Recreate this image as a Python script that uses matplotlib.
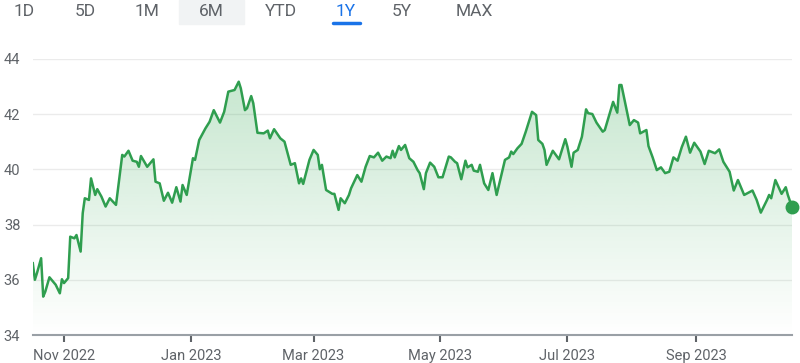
import numpy as np
import pandas as pd
import matplotlib
matplotlib.use('Agg')
import matplotlib.pyplot as plt
import matplotlib.dates as mdates

plt.rcParams['font.family'] = ['Roboto', 'DejaVu Sans']

# day offsets from the first point and closing prices
start = '2022-10-17'
days = [0, 1, 2, 4, 5, 6, 8, 11, 13, 14,
        15, 17, 18, 20, 21, 23, 24, 25, 27, 28,
        30, 31, 33, 35, 37, 40, 43, 44, 46, 48,
        50, 51, 52, 55, 58, 59, 61, 63, 65, 67,
        69, 71, 72, 74, 77, 78, 80, 83, 85, 87,
        90, 92, 94, 97, 99, 100, 102, 103, 105, 106,
        108, 111, 113, 114, 116, 119, 121, 124, 126, 128,
        129, 130, 133, 135, 137, 138, 139, 141, 144, 145,
        147, 148, 150, 152, 153, 156, 158, 160, 162, 164,
        166, 168, 170, 172, 173, 174, 176, 177, 179, 181,
        183, 185, 186, 188, 189, 191, 193, 195, 197, 200,
        201, 203, 204, 206, 208, 209, 211, 212, 214, 215,
        217, 219, 221, 223, 227, 229, 230, 231, 233, 235,
        237, 240, 242, 243, 245, 246, 247, 250, 253, 256,
        257, 259, 260, 262, 264, 266, 267, 269, 271, 274,
        275, 277, 279, 281, 282, 283, 287, 289, 291, 292,
        295, 296, 298, 300, 302, 304, 306, 308, 310, 312,
        314, 316, 318, 321, 323, 325, 328, 330, 332, 335,
        337, 339, 342, 344, 346, 348, 350, 353, 354, 355,
        357, 360, 362, 363, 365]
price = [36.60, 36.00, 36.24, 36.78, 35.39, 35.57, 36.09, 35.82, 35.51, 36.02,
         35.88, 36.06, 37.56, 37.50, 37.62, 37.02, 38.41, 38.95, 38.89, 39.67,
         39.07, 39.28, 39.01, 38.65, 38.95, 38.71, 40.52, 40.46, 40.67, 40.31,
         40.27, 40.09, 40.48, 40.09, 40.36, 39.55, 39.49, 38.86, 39.15, 38.79,
         39.35, 38.83, 39.43, 39.07, 40.40, 40.34, 41.06, 41.48, 41.72, 42.14,
         41.69, 42.08, 42.81, 42.87, 43.17, 42.93, 42.14, 42.21, 42.65, 42.39,
         41.32, 41.30, 41.40, 41.12, 41.45, 41.12, 41.00, 40.16, 40.22, 39.49,
         39.67, 39.47, 40.34, 40.70, 40.52, 40.00, 40.16, 39.25, 39.11, 39.11,
         38.53, 38.95, 38.77, 39.07, 39.31, 39.79, 39.55, 40.09, 40.48, 40.43,
         40.60, 40.31, 40.46, 40.40, 40.67, 40.43, 40.84, 40.70, 40.88, 40.40,
         40.27, 39.97, 39.86, 39.28, 39.86, 40.24, 40.09, 39.71, 39.71, 40.46,
         40.43, 40.27, 40.22, 39.64, 40.31, 40.07, 40.16, 39.95, 39.91, 40.16,
         39.49, 39.25, 39.86, 39.07, 40.34, 40.43, 40.64, 40.55, 40.76, 40.92,
         41.36, 42.08, 41.96, 41.06, 40.92, 40.70, 40.16, 40.67, 40.36, 41.09,
         40.82, 40.09, 40.60, 40.70, 41.18, 42.17, 42.03, 42.00, 41.69, 41.36,
         41.42, 41.93, 42.44, 42.05, 43.05, 43.05, 41.60, 41.78, 41.69, 41.30,
         41.42, 40.84, 40.43, 39.97, 40.07, 39.86, 39.91, 40.43, 40.31, 40.80,
         41.18, 40.60, 40.96, 40.64, 40.19, 40.67, 40.58, 40.72, 40.27, 39.91,
         39.23, 39.61, 39.07, 39.15, 39.23, 38.89, 38.43, 38.89, 39.07, 38.95,
         39.61, 39.11, 39.35, 39.07, 38.63]

ranges = ['1D', '5D', '1M', '6M', 'YTD', '1Y', '5Y', 'MAX']
yticks = [34, 36, 38, 40, 42, 44]
xtick_dates = ['2022-11-01', '2023-01-01', '2023-03-01', '2023-05-01', '2023-07-01', '2023-09-01']
xtick_labels = ['Nov 2022', 'Jan 2023', 'Mar 2023', 'May 2023', 'Jul 2023', 'Sep 2023']

assert len(days) == len(price)
dates = pd.Timestamp(start) + pd.to_timedelta(days, unit='D')
x = mdates.date2num(dates.to_pydatetime())

green = '#2f9e4f'
grey = '#5f6368'

fig = plt.figure(figsize=(8, 3.63), dpi=100)
ax = fig.add_axes([0.041, 0.0771, 0.949, 0.761])

# gradient fill under the line
poly = ax.fill_between(x, price, 34, color='none', lw=0)
grad = np.zeros((256, 1, 4))
grad[:, 0, :3] = matplotlib.colors.to_rgb('#34a853')
grad[:, 0, 3] = np.linspace(0.3, 0.0, 256)
img = ax.imshow(grad, extent=[x[0], x[-1], 34, 44], aspect='auto', origin='upper', zorder=1)
img.set_clip_path(poly.get_paths()[0], transform=ax.transData)

ax.plot(x, price, color=green, lw=1.8, zorder=3, solid_joinstyle='round')
ax.plot(x[-1], price[-1], 'o', color=green, ms=9, zorder=4, clip_on=False)

ax.set_xlim(x[0], x[-1])
ax.set_ylim(34, 44)
ax.set_yticks(yticks)
ax.grid(axis='y', color='#ebebeb', lw=1)
ax.set_axisbelow(True)
for s in ['top', 'right', 'left']:
    ax.spines[s].set_visible(False)
ax.spines['bottom'].set_color('#9aa0a6')
ax.spines['bottom'].set_linewidth(1.5)
ax.tick_params(axis='y', length=0, pad=9, labelsize=10.5, labelcolor=grey)
ax.set_xticks(mdates.date2num(pd.to_datetime(xtick_dates).to_pydatetime()))
ax.set_xticklabels(xtick_labels)
ax.tick_params(axis='x', length=5, width=1.5, color=grey, pad=5, labelsize=10.5, labelcolor=grey)

# range selector buttons
centers = [24, 85, 147, 211, 281, 346, 402, 474]
fig.patches.append(plt.Rectangle((179 / 800, 1 - 24 / 363), 65 / 800, 24 / 363,
                                 transform=fig.transFigure, color='#f1f3f4', zorder=0))
for lab, cx in zip(ranges, centers):
    col = '#1a73e8' if lab == '1Y' else grey
    fig.text(cx / 800, 1 - 11 / 363, lab, ha='center', va='center', fontsize=12.5, color=col)
fig.lines.append(plt.Line2D([333 / 800, 360 / 800], [1 - 22.7 / 363, 1 - 22.7 / 363],
                            transform=fig.transFigure, color='#1a73e8', lw=2.5,
                            solid_capstyle='round'))

fig.savefig('out.png', dpi=100)
